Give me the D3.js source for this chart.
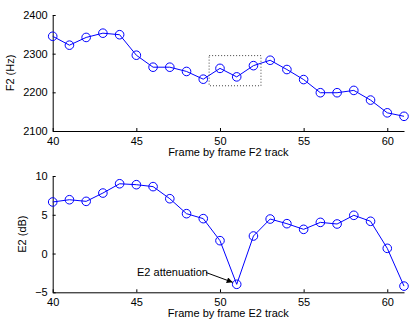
<!DOCTYPE html>
<html>
<head>
<meta charset="utf-8">
<script src="https://cdn.jsdelivr.net/npm/d3@7"></script>
<style>
  body { margin: 0; background: #fff; }
  text { font-family: "Liberation Sans", Arial, sans-serif; }
</style>
</head>
<body>
<script>
// frames 40..61
var frames = [40,41,42,43,44,45,46,47,48,49,50,51,52,53,54,55,56,57,58,59,60,61];
var f2 = [2345,2322,2342,2353,2349,2296,2265,2265,2254,2234,2262,2240,2269,2283,2259,2233,2199,2199,2205,2180,2147,2138];
var e2 = [6.65,6.94,6.73,7.8,9.0,8.88,8.63,7.07,5.14,4.5,1.66,-3.97,2.26,4.45,3.85,3.12,4.02,3.81,4.93,4.16,0.67,-4.2];
var xTicks = [40,45,50,55,60];
var f2Ticks = [2100,2200,2300,2400];
var e2Ticks = [-5,0,5,10];
var boxX = [49.35, 52.45], boxY = [2217, 2295];

var width = 409, height = 320;
var svg = d3.select("body").append("svg")
    .attr("width", width)
    .attr("height", height);

var x = d3.scaleLinear().domain([40, 61]).range([52.7, 404]);

function panel(data, yDomain, yRange, yTicks, ylab, xlab, ylabX) {
  var y = d3.scaleLinear().domain(yDomain).range(yRange);
  var g = svg.append("g");

  var xAxis = g.append("g")
      .attr("transform", "translate(0," + yRange[0] + ")")
      .call(d3.axisBottom(x).tickValues(xTicks).tickSizeInner(-3).tickSizeOuter(0).tickPadding(6));
  var yAxis = g.append("g")
      .attr("transform", "translate(" + x.range()[0] + ",0)")
      .call(d3.axisLeft(y).tickValues(yTicks).tickSizeInner(-3).tickSizeOuter(0).tickPadding(5)
        .tickFormat(function(d){ return d < 0 ? "\u2212" + Math.abs(d) : d; }));
  [xAxis, yAxis].forEach(function(a){
    a.selectAll("path, line").attr("stroke", "#000").attr("stroke-width", 1);
    a.selectAll("text").attr("font-size", 11).attr("fill", "#000")
      .style("font-family", "'Liberation Sans', Arial, sans-serif");
  });

  var line = d3.line()
      .x(function(d, i){ return x(frames[i]); })
      .y(function(d){ return y(d); });
  g.append("path").datum(data)
      .attr("d", line)
      .attr("fill", "none")
      .attr("stroke", "#0000ff")
      .attr("stroke-width", 1);
  g.selectAll("circle").data(data).enter()
      .append("circle")
      .attr("cx", function(d, i){ return x(frames[i]); })
      .attr("cy", function(d){ return y(d); })
      .attr("r", 4.3)
      .attr("fill", "none")
      .attr("stroke", "#0000ff")
      .attr("stroke-width", 1);

  g.append("text")
      .attr("x", (x.range()[0] + x.range()[1]) / 2)
      .attr("y", yRange[0] + 25)
      .attr("text-anchor", "middle")
      .attr("font-size", 11)
      .text(xlab);
  g.append("text")
      .attr("transform", "translate(" + ylabX + "," + (yRange[0] + yRange[1]) / 2 + ") rotate(-90)")
      .attr("text-anchor", "middle")
      .attr("font-size", 11)
      .text(ylab);
  return y;
}

var yTop = panel(f2, [2100, 2400], [131, 15], f2Ticks, "F2 (Hz)", "Frame by frame F2 track", 14);
var yBot = panel(e2, [-5, 10], [292.3, 176], e2Ticks, "E2 (dB)", "Frame by frame E2 track", 26);

// dotted box around frames 50-52
svg.append("rect")
    .attr("x", x(boxX[0]))
    .attr("y", yTop(boxY[1]))
    .attr("width", x(boxX[1]) - x(boxX[0]))
    .attr("height", yTop(boxY[0]) - yTop(boxY[1]))
    .attr("fill", "none")
    .attr("stroke", "#444")
    .attr("stroke-width", 1)
    .attr("stroke-dasharray", "1,2");

// annotation
svg.append("defs").append("marker")
    .attr("id", "arr")
    .attr("viewBox", "0 0 10 10")
    .attr("refX", 10).attr("refY", 5)
    .attr("markerWidth", 9).attr("markerHeight", 6)
    .attr("orient", "auto")
    .append("path").attr("d", "M0,0 L10,5 L0,10 z").attr("fill", "#000");

svg.append("text")
    .attr("x", 137)
    .attr("y", 276)
    .attr("font-size", 11)
    .text("E2 attenuation");
svg.append("line")
    .attr("x1", 206).attr("y1", 272.5)
    .attr("x2", x(51) - 4).attr("y2", yBot(-3.97) - 2)
    .attr("stroke", "#000")
    .attr("stroke-width", 1)
    .attr("marker-end", "url(#arr)");
</script>
</body>
</html>
